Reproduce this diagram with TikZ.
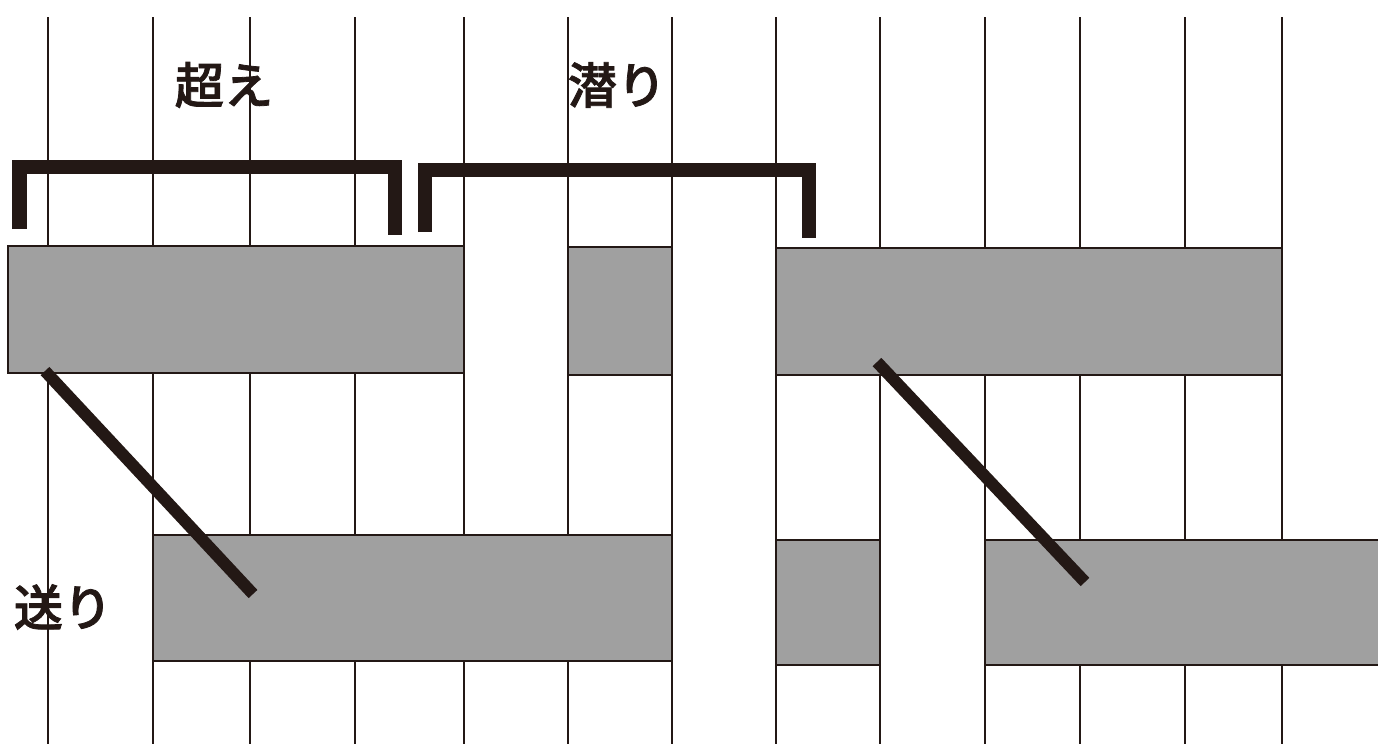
\documentclass[tikz,border=0pt]{standalone}
\usepackage{fontspec}
\usepackage{tikz}
\newfontfamily\jpfont[FakeBold=1.6]{Noto Sans CJK JP Medium}
\definecolor{weftgray}{RGB}{160,160,160}
\definecolor{ink}{RGB}{35,24,21}

\begin{document}
\begin{tikzpicture}[x=0.01cm,y=-0.01cm,
  warp line/.style={draw=ink,line width=0.6pt},
  weft bar/.style={fill=weftgray,draw=ink,line width=0.6pt},
  bracket line/.style={draw=ink,line width=0.14cm,miter limit=10},
  slant line/.style={draw=ink,line width=0.12cm},
  label/.style={font=\jpfont\fontsize{14}{17}\selectfont,text=ink,inner sep=0pt}]

  \useasboundingbox (0,0) rectangle (1378,744);

  % warp threads
  \foreach \x in {48,153,250,355,464,568,672,776,880,985,1080,1185,1282}
    \draw[warp line] (\x,17) -- (\x,744);

  % weft, upper row
  \draw[weft bar] (8,246) rectangle (464,373);
  \draw[weft bar] (568,247) rectangle (672,375);
  \draw[weft bar] (776,248) rectangle (1282,375);

  % weft, lower row
  \draw[weft bar] (153,535) rectangle (672,661);
  \draw[weft bar] (776,540) rectangle (880,665);
  \draw[weft bar] (985,540) rectangle (1390,665);

  % brackets
  \coordinate (b1a) at (19.5,229);
  \coordinate (b1b) at (395,235);
  \coordinate (b2a) at (425,232);
  \coordinate (b2b) at (809,238);
  \draw[bracket line] (b1a) -- (19.5,167) -- (395,167) -- (b1b);
  \draw[bracket line] (b2a) -- (425,170) -- (809,170) -- (b2b);

  % slanted strokes
  \coordinate (s1a) at (45,371);
  \coordinate (s1b) at (253,594);
  \coordinate (s2a) at (877,362);
  \coordinate (s2b) at (1085,582);
  \draw[slant line] (s1a) -- (s1b);
  \draw[slant line] (s2a) -- (s2b);

  \node[label] (koe) at (224,85) {超え};
  \node[label] (kuguri) at (617,85) {潜り};
  \node[label] (okuri) at (63,607) {送り};
\end{tikzpicture}
\end{document}
